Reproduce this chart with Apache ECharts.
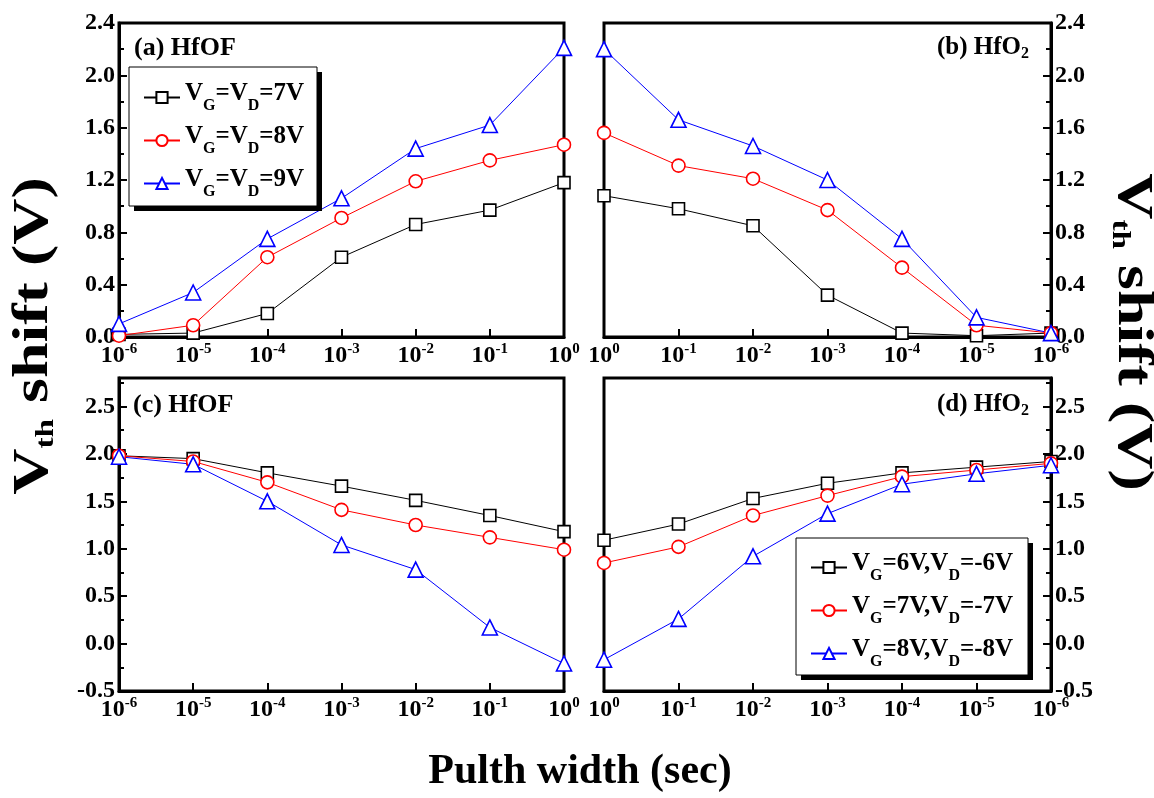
<!DOCTYPE html>
<html>
<head>
<meta charset="utf-8">
<script src="https://cdn.jsdelivr.net/npm/echarts@6/dist/echarts.min.js"></script>
<style>
  html, body { margin: 0; padding: 0; background: #fff; }
  #chart { width: 1154px; height: 798px; }
</style>
</head>
<body>
<div id="chart"></div>
<script>
// pulse widths (sec)
const pulseUp = [1e-6, 1e-5, 1e-4, 1e-3, 1e-2, 1e-1, 1];
const pulseDown = [1, 1e-1, 1e-2, 1e-3, 1e-4, 1e-5, 1e-6];

const namesTop = ['VG=VD=7V', 'VG=VD=8V', 'VG=VD=9V'];
const namesBottom = ['VG=6V,VD=-6V', 'VG=7V,VD=-7V', 'VG=8V,VD=-8V'];

// (a) HfOF, x = pulseUp
const a7 = [0.02, 0.03, 0.18, 0.61, 0.86, 0.97, 1.18];
const a8 = [0.01, 0.09, 0.61, 0.91, 1.19, 1.35, 1.47];
const a9 = [0.10, 0.34, 0.75, 1.06, 1.44, 1.62, 2.21];
// (b) HfO2, x = pulseDown
const b7 = [1.08, 0.98, 0.85, 0.32, 0.03, 0.01, 0.03];
const b8 = [1.56, 1.31, 1.21, 0.97, 0.53, 0.09, 0.03];
const b9 = [2.20, 1.66, 1.46, 1.20, 0.75, 0.15, 0.03];
// (c) HfOF, x = pulseUp
const c6 = [1.98, 1.95, 1.80, 1.66, 1.51, 1.35, 1.18];
const c7 = [1.98, 1.92, 1.70, 1.41, 1.25, 1.12, 0.99];
const c8 = [1.97, 1.89, 1.50, 1.04, 0.78, 0.17, -0.21];
// (d) HfO2, x = pulseDown
const d6 = [1.09, 1.26, 1.53, 1.69, 1.80, 1.86, 1.92];
const d7 = [0.85, 1.02, 1.35, 1.56, 1.76, 1.83, 1.90];
const d8 = [-0.17, 0.26, 0.92, 1.37, 1.68, 1.79, 1.88];

const FONT = '"Liberation Serif", "DejaVu Serif", serif';
const colors = ['#000000', '#ff0000', '#0000ff'];
const symbols = ['rect', 'circle', 'triangle'];
const symSizes = [12, 13, 15];

const grids = [
  { left: 119, top: 23, width: 445, height: 314 },
  { left: 604, top: 23, width: 447, height: 314 },
  { left: 119, top: 378, width: 445, height: 313 },
  { left: 604, top: 378, width: 447, height: 313 }
].map(g => Object.assign(g, { show: true, borderColor: '#000', borderWidth: 3, backgroundColor: 'transparent' }));

function xAxis(idx, inverse) {
  return {
    type: 'log', logBase: 10, gridIndex: idx, min: 1e-6, max: 1, inverse: inverse,
    splitLine: { show: false },
    axisLine: { show: true, onZero: false, lineStyle: { color: '#000', width: 3 } },
    axisTick: { show: true, inside: true, length: 8, lineStyle: { color: '#000', width: 2 } },
    minorTick: { show: false },
    axisLabel: {
      margin: 5, color: '#000',
      formatter: v => '{b|10}{s|' + Math.round(Math.log10(v)) + '}',
      rich: {
        b: { fontFamily: FONT, fontWeight: 'bold', fontSize: 24, color: '#000' },
        s: { fontFamily: FONT, fontWeight: 'bold', fontSize: 15, color: '#000', verticalAlign: 'top', padding: [0, 0, 12, 0] }
      }
    }
  };
}

function yAxis(idx, pos, min, max, step) {
  return {
    type: 'value', gridIndex: idx, position: pos, min: min, max: max, interval: step,
    splitLine: { show: false },
    axisLine: { show: true, onZero: false, lineStyle: { color: '#000', width: 3 } },
    axisTick: { show: true, inside: true, length: 8, lineStyle: { color: '#000', width: 2 } },
    minorTick: { show: true, splitNumber: 2, length: 5, lineStyle: { color: '#000', width: 2 } },
    axisLabel: {
      margin: 4, color: '#000', fontFamily: FONT, fontWeight: 'bold', fontSize: 24,
      showMaxLabel: Math.abs(Math.round(max / step) * step - max) < 1e-9,
      formatter: v => v.toFixed(1)
    }
  };
}

function makeSeries(idx, names, xs, arrs) {
  return arrs.map((arr, i) => ({
    type: 'line', name: names[i], xAxisIndex: idx, yAxisIndex: idx,
    data: arr.map((v, k) => [xs[k], v]),
    symbol: symbols[i], symbolSize: symSizes[i],
    lineStyle: { color: colors[i], width: 1 },
    itemStyle: { color: '#fff', borderColor: colors[i], borderWidth: 1.6 },
    clip: false, z: 2
  }));
}

const richN = { fontFamily: FONT, fontWeight: 'bold', fontSize: 25, color: '#000', lineHeight: 30, verticalAlign: 'top' };
const richS = { fontFamily: FONT, fontWeight: 'bold', fontSize: 16, color: '#000', verticalAlign: 'top', padding: [17, 0, 0, 0] };

// "VG=6V,VD=-6V" -> rich text with G/D as subscripts
function legendLabel(name) {
  return name.split(/(?<=V)([GD])/)
    .map((t, i) => i % 2 === 1 ? '{s|' + t + '}' : (t ? '{n|' + t + '}' : ''))
    .join('');
}

const legendBase = {
  orient: 'vertical', backgroundColor: 'transparent', borderWidth: 0, padding: 0,
  itemWidth: 36, itemHeight: 14, itemGap: 10, z: 6,
  textStyle: { rich: { n: richN, s: richS } },
  formatter: legendLabel
};

function boxWithShadow(x, y, w, h) {
  return [
    { type: 'rect', z: 4, shape: { x: x + 5, y: y + 5, width: w, height: h }, style: { fill: '#000' } },
    { type: 'rect', z: 5, shape: { x: x, y: y, width: w, height: h }, style: { fill: '#fff', stroke: '#000', lineWidth: 1 } }
  ];
}

const subRich = (big, small, pad) => ({
  n: { font: 'bold ' + big + 'px ' + FONT, fill: '#000' },
  s: { font: 'bold ' + small + 'px ' + FONT, fill: '#000', verticalAlign: 'bottom', padding: [pad, 0, 0, 0] }
});

const option = {
  backgroundColor: '#fff',
  animation: false,
  grid: grids,
  xAxis: [xAxis(0, false), xAxis(1, true), xAxis(2, false), xAxis(3, true)],
  yAxis: [
    yAxis(0, 'left', 0, 2.4, 0.4),
    yAxis(1, 'right', 0, 2.4, 0.4),
    yAxis(2, 'left', -0.5, 2.8, 0.5),
    yAxis(3, 'right', -0.5, 2.8, 0.5)
  ],
  legend: [
    Object.assign({}, legendBase, { left: 143, top: 81, data: namesTop }),
    Object.assign({}, legendBase, { left: 810, top: 551, data: namesBottom })
  ],
  series: [].concat(
    makeSeries(0, namesTop, pulseUp, [a7, a8, a9]),
    makeSeries(1, namesTop, pulseDown, [b7, b8, b9]),
    makeSeries(2, namesBottom, pulseUp, [c6, c7, c8]),
    makeSeries(3, namesBottom, pulseDown, [d6, d7, d8])
  ),
  graphic: [].concat(
    boxWithShadow(129, 67, 188, 139),
    boxWithShadow(796, 538, 232, 137),
    [
      { type: 'text', left: 134, top: 35, z: 6, style: { text: '(a) HfOF', font: 'bold 26px ' + FONT, fill: '#000' } },
      { type: 'text', left: 937, top: 35, z: 6, style: { text: '{n|(b) HfO}{s|2}', rich: subRich(25, 16, 12) } },
      { type: 'text', left: 133, top: 392, z: 6, style: { text: '(c) HfOF', font: 'bold 26px ' + FONT, fill: '#000' } },
      { type: 'text', left: 937, top: 392, z: 6, style: { text: '{n|(d) HfO}{s|2}', rich: subRich(25, 16, 12) } },
      { type: 'text', x: 34, y: 336, rotation: Math.PI / 2, scaleX: 1.28, style: { text: '{n|V}{s|th}{n| shift (V)}', align: 'center', verticalAlign: 'middle', rich: subRich(50, 26, 18) } },
      { type: 'text', x: 1132, y: 332, rotation: -Math.PI / 2, scaleX: 1.28, style: { text: '{n|V}{s|th}{n| shift (V)}', align: 'center', verticalAlign: 'middle', rich: subRich(50, 26, 18) } },
      { type: 'text', x: 580, y: 772, style: { text: 'Pulth width (sec)', font: 'bold 42px ' + FONT, fill: '#000', align: 'center', verticalAlign: 'middle' } }
    ]
  )
};

const chart = echarts.init(document.getElementById('chart'), null, { renderer: 'canvas' });
chart.setOption(option);
</script>
</body>
</html>
